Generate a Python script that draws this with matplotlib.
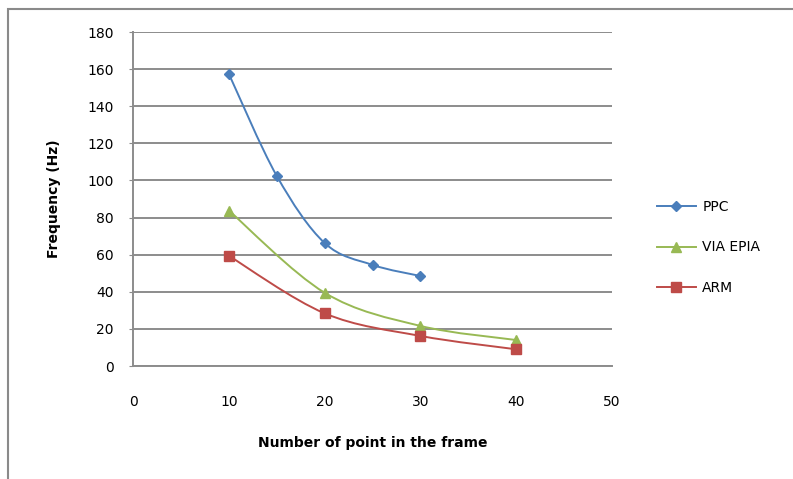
import numpy as np
import matplotlib
matplotlib.use("Agg")
import matplotlib.pyplot as plt
from matplotlib.path import Path
from matplotlib.patches import PathPatch, Rectangle
from matplotlib.lines import Line2D

# ---- data ----
ppc_x = [10, 15, 20, 25, 30]
ppc_y = [157.5, 102.5, 66.3, 54.5, 48.5]
via_x = [10, 20, 30, 40]
via_y = [83.8, 39.5, 21.6, 14.0]
arm_x = [10, 20, 30, 40]
arm_y = [59.4, 28.4, 16.2, 9.0]
series_names = ["PPC", "VIA EPIA", "ARM"]
x_ticks = [0, 10, 20, 30, 40, 50]
y_ticks = [0, 20, 40, 60, 80, 100, 120, 140, 160, 180]
x_label = "Number of point in the frame"
y_label = "Frequency (Hz)"

W, H = 793, 479
fig = plt.figure(figsize=(W / 100, H / 100), dpi=100)
plt.rcParams['font.family'] = ['DejaVu Sans']

# chart border
fig.patches.append(Rectangle((8 / W, -0.2), 1.2, 1 - 9 / H + 0.2,
                             transform=fig.transFigure, fill=False,
                             edgecolor="#8a8a8a", linewidth=1.5))

ax = fig.add_axes([133 / W, (H - 366) / H, (612 - 133) / W, (366 - 32) / H])
ax.set_xlim(0, 50)
ax.set_ylim(0, 180)
ax.set_xticks(x_ticks)
ax.set_yticks(y_ticks)
ax.grid(axis='y', color="#8c8c8c", linewidth=1.4)
ax.set_axisbelow(True)
for s in ["top", "right"]:
    ax.spines[s].set_visible(False)
for s in ["left", "bottom"]:
    ax.spines[s].set_color("#8c8c8c")
    ax.spines[s].set_linewidth(1.4)
ax.tick_params(axis='y', length=3, color="#8c8c8c", pad=11, labelsize=10)
ax.tick_params(axis='x', length=0, pad=21, labelsize=10)


def smooth_path(xs, ys):
    pts = np.column_stack([xs, ys]).astype(float)
    n = len(pts)
    verts = [pts[0]]
    codes = [Path.MOVETO]
    for i in range(n - 1):
        p0 = pts[i - 1] if i > 0 else pts[i]
        p1 = pts[i]
        p2 = pts[i + 1]
        p3 = pts[i + 2] if i + 2 < n else pts[i + 1]
        c1 = p1 + (p2 - p0) / 6.0
        c2 = p2 - (p3 - p1) / 6.0
        verts += [c1, c2, p2]
        codes += [Path.CURVE4] * 3
    return Path(verts, codes)


styles = [
    (ppc_x, ppc_y, "#4a7ebb", "D", 5.5),
    (via_x, via_y, "#98b954", "^", 7.5),
    (arm_x, arm_y, "#be4b48", "s", 7),
]
handles = []
for (xs, ys, c, m, ms), name in zip(styles, series_names):
    ax.add_patch(PathPatch(smooth_path(xs, ys), facecolor='none',
                           edgecolor=c, linewidth=1.4, zorder=3))
    ax.plot(xs, ys, linestyle='none', marker=m, markersize=ms, color=c,
            markeredgecolor=c, zorder=4, clip_on=False)
    handles.append(Line2D([], [], color=c, linewidth=1.4, marker=m,
                          markersize=ms, markeredgecolor=c, label=name))

ax.set_xlabel(x_label, fontsize=10, fontweight='bold', labelpad=19)
ax.set_ylabel(y_label, fontsize=10, fontweight='bold', labelpad=19)

fig.legend(handles=handles, loc='upper left',
           bbox_to_anchor=(657 / W, 1 - 200 / H), frameon=False,
           fontsize=10, handlelength=2.8, handletextpad=0.45,
           labelspacing=1.9, borderpad=0, borderaxespad=0)

fig.savefig("out.png", dpi=100)
